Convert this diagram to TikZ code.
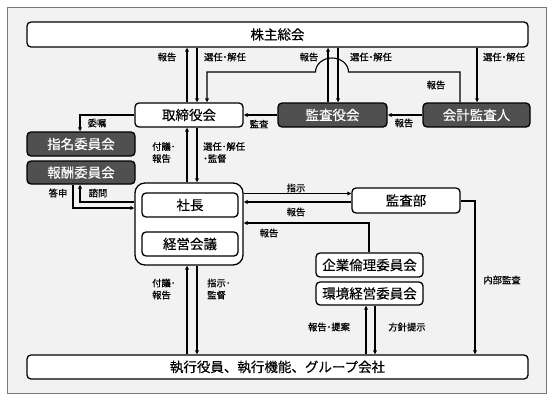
\documentclass[tikz,border=0pt]{standalone}
\usepackage{fontspec}
\setmainfont{Noto Sans CJK JP}
\newfontfamily\lblfont{Noto Sans CJK JP}[FakeBold=0.6]
\newfontfamily\boxfont{Noto Sans CJK JP}[FakeBold=0.3]
\usetikzlibrary{arrows.meta}
\definecolor{bgc}{RGB}{242,242,242}
\definecolor{framec}{RGB}{120,120,120}
\definecolor{darkc}{RGB}{80,80,80}
\begin{document}
\begin{tikzpicture}[x=1pt,y=-1pt,
  box/.style={draw=black, line width=1.3pt, rounded corners=4pt, fill=white,
    font=\boxfont\fontsize{13.5}{14}\selectfont, inner sep=0pt, anchor=center},
  darkbox/.style={box, fill=darkc, text=white},
  grpbox/.style={draw=black, line width=1.3pt, rounded corners=10pt, fill=white, inner sep=0pt, anchor=center},
  arr/.style={line width=1.1pt, -{Triangle[length=4pt,width=3.6pt]}},
  lbl/.style={font=\lblfont\fontsize{9.3}{12}\selectfont, inner sep=0pt, align=left}]
\useasboundingbox (0,0) rectangle (553,401);
\draw[fill=bgc, draw=framec, line width=0.8pt] (7,7) rectangle (546,393);

% boxes
\node[box, minimum width=501pt, minimum height=25pt] (kabu) at (277.5,34.5) {株主総会};
\node[box, minimum width=108pt, minimum height=24pt] (tori) at (189,115) {取締役会};
\node[darkbox, minimum width=109pt, minimum height=24pt] (kansa) at (332.5,115) {監査役会};
\node[darkbox, minimum width=107pt, minimum height=24pt] (kaikei) at (476.5,115) {会計監査人};
\node[darkbox, minimum width=108pt, minimum height=24pt] (shimei) at (81,144) {指名委員会};
\node[darkbox, minimum width=108pt, minimum height=23pt] (hoshu) at (81,172.5) {報酬委員会};
\node[grpbox, minimum width=108pt, minimum height=82pt] (grp) at (189,224) {};
\node[box, minimum width=96pt, minimum height=24pt] (shacho) at (190,205) {社長};
\node[box, minimum width=96pt, minimum height=24pt] (keiei) at (190,244) {経営会議};
\node[box, minimum width=108pt, minimum height=25pt] (kansabu) at (406,200.5) {監査部};
\node[box, minimum width=107pt, minimum height=24pt] (kigyo) at (369.5,265) {企業倫理委員会};
\node[box, minimum width=107pt, minimum height=23pt] (kankyo) at (369.5,293.5) {環境経営委員会};
\node[box, minimum width=501pt, minimum height=24pt] (shikko) at (277.5,367) {執行役員、執行機能、グループ会社};

% columns and rows
\coordinate (cA) at (187,0);
\coordinate (cB) at (197,0);
\coordinate (cC) at (328,0);
\coordinate (cD) at (338,0);
\coordinate (cE) at (477,0);
\coordinate (cF) at (460,0);
\coordinate (cG) at (207,0);
\coordinate (cH) at (80,0);
\coordinate (cI) at (73,0);
\coordinate (cJ) at (475,0);
\coordinate (cK) at (369,0);
\coordinate (cL) at (366,0);
\coordinate (cM) at (375,0);
\coordinate (rA) at (0,193.5);
\coordinate (rB) at (0,202);
\coordinate (rC) at (0,223);
\coordinate (rD) at (0,72);
\coordinate (rE) at (0,202);
\coordinate (rF) at (0,208);
\coordinate (rG) at (0,201);
\coordinate (hR) at (348.5,72);

% connectors
\draw[arr] (tori.north -| cA) -- (kabu.south -| cA);
\draw[arr] (kabu.south -| cB) -- (tori.north -| cB);
\draw[arr] (kansa.north -| cC) -- (kabu.south -| cC);
\draw[arr] (kabu.south -| cD) -- (kansa.north -| cD);
\draw[arr] (kabu.south -| cE) -- (kaikei.north -| cE);
\draw[arr] (kaikei.north -| cF) -- (cF |- rD) -- (hR)
  arc[start angle=0, end angle=-180, x radius=16.5, y radius=14]
  -- (cG |- rD) -- (tori.north -| cG);
\draw[arr] (kansa.west) -- (tori.east);
\draw[arr] (kaikei.west) -- (kansa.east);
\draw[arr] (tori.west) -| (shimei.north -| cH);
\draw[arr] (grp.north -| cA) -- (tori.south -| cA);
\draw[arr] (tori.south -| cB) -- (grp.north -| cB);
\draw[arr] (grp.west |- rE) -| (hoshu.south -| cH);
\draw[arr] (hoshu.south -| cI) |- (grp.west |- rF);
\draw[arr] (grp.east |- rA) -- (kansabu.west |- rA);
\draw[arr] (kansabu.west |- rB) -- (grp.east |- rB);
\draw[arr] (kigyo.north -| cK) |- (grp.east |- rC);
\draw[arr] (kansabu.east |- rG) -| (shikko.north -| cJ);
\draw[arr] (shikko.north -| cA) -- (grp.south -| cA);
\draw[arr] (grp.south -| cB) -- (shikko.north -| cB);
\draw[arr] (shikko.north -| cL) -- (kankyo.south -| cL);
\draw[arr] (kankyo.south -| cM) -- (shikko.north -| cM);

% labels
\node[lbl] (l1) at (167,57) {報告};
\node[lbl] (l2) at (225,57) {選任･解任};
\node[lbl] (l3) at (309,57) {報告};
\node[lbl] (l4) at (371,57) {選任･解任};
\node[lbl] (l5) at (504,57) {選任･解任};
\node[lbl] (l6) at (436,85) {報告};
\node[lbl] (l7) at (259,124) {監査};
\node[lbl] (l8) at (404,123) {報告};
\node[lbl] (l9) at (97,123) {委嘱};
\node[lbl, anchor=west] (l10) at (152,152.5) {付議･\\報告};
\node[lbl, anchor=west] (l11) at (203,152.5) {選任･解任\\･監督};
\node[lbl] (l12) at (58,193) {答申};
\node[lbl] (l13) at (98,193) {諮問};
\node[lbl] (l14) at (296,188) {指示};
\node[lbl] (l15) at (296,212) {報告};
\node[lbl] (l16) at (269,233) {報告};
\node[lbl, anchor=west] (l17) at (152,289) {付議･\\報告};
\node[lbl, anchor=west] (l18) at (207,289) {指示･\\監督};
\node[lbl] (l19) at (502,280) {内部監査};
\node[lbl] (l20) at (329,327) {報告･提案};
\node[lbl] (l21) at (407,327) {方針提示};
\end{tikzpicture}
\end{document}
